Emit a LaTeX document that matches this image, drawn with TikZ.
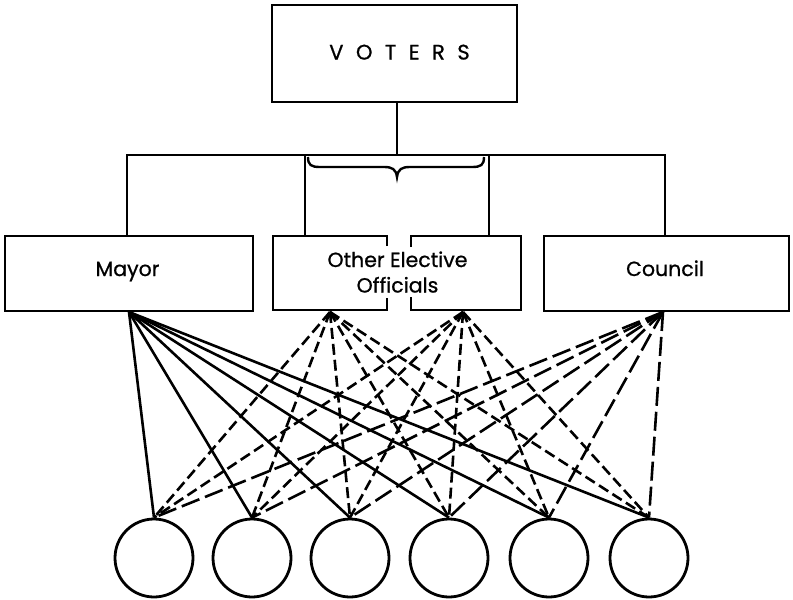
\documentclass[tikz,border=0pt]{standalone}
\usepackage{fontspec}
\setmainfont{Poppins}[FakeBold=0.8]
\begin{document}
\begin{tikzpicture}[x=1pt,y=-1pt,
  line width=2.8pt,
  boxnode/.style={draw, rectangle, inner sep=0pt, line width=2.8pt},
  lbl/.style={font=\fontsize{20.5}{25.5}\selectfont, align=center, inner sep=0pt},
  circ/.style={draw, circle, minimum size=78pt, inner sep=0pt, line width=2.8pt},
  wire/.style={line width=2.6pt},
  shortdash/.style={wire, dash pattern=on 11pt off 5pt},
  longdash/.style={wire, dash pattern=on 19pt off 6pt}]
\useasboundingbox (0,0) rectangle (793,600);
\fill[white] (0,0) rectangle (793,600);

% boxes
\node[boxnode, minimum width=245pt, minimum height=97pt] (voters) at (394.5,53.5) {};
\node[lbl, anchor=base, font={\fontsize{21}{25}\selectfont\spaceskip=12.5pt\relax}] (voterstext) at (399.5,59.5) {V O T E R S};
\node[boxnode, minimum width=248pt, minimum height=75pt] (mayor) at (129,273.5) {};
\node[lbl, anchor=base] (mayortext) at (127.5,276) {Mayor};
\node[boxnode, minimum width=245pt, minimum height=75pt] (council) at (666.5,273.5) {};
\node[lbl, anchor=base] (counciltext) at (665,276) {Council};
\node[lbl, anchor=base] (other) at (397.5,292.5) {Other Elective\\Officials};

% split boxes of the other elective officials
\draw (387,246) -- (387,236) -- (273,236) -- (273,310) -- (387,310) -- (387,298);
\draw (411,247) -- (411,236) -- (521,236) -- (521,310) -- (411,310) -- (411,297);

% tree above
\coordinate (bus) at (397,155);
\coordinate (busL) at (127,155);
\coordinate (busR) at (665,155);
\coordinate (oL) at (305,236);
\coordinate (oR) at (489,236);
\draw (voters.south -| bus) -- (bus);
\draw[line join=miter] (mayor.north -| busL) -- (busL) -- (busR) -- (council.north -| busR);
\draw (oL |- bus) -- (oL);
\draw (oR |- bus) -- (oR);

% brace
\draw[line width=2.4pt] (308,157) .. controls (308,165) and (311,167) .. (320,167) -- (384,167)
  .. controls (392,167) and (396,169) .. (397,177)
  .. controls (398,169) and (402,167) .. (410,167) -- (472,167)
  .. controls (481,167) and (484,165) .. (484,157);

% circles
\foreach \i/\x in {1/154,2/252,3/350,4/449,5/549,6/649}
  \node[circ] (c\i) at (\x,558) {};

% apex points
\coordinate (aM) at (129,312);
\coordinate (aL) at (330,312);
\coordinate (aR) at (463,312);
\coordinate (aC) at (663,312);

\foreach \i in {1,...,6} {
  \draw[wire] (aM) -- (c\i.north);
  \draw[shortdash] (aL) -- (c\i.north);
  \draw[shortdash] (aR) -- (c\i.north);
  \draw[longdash] (aC) -- (c\i.north);
}
\end{tikzpicture}
\end{document}
